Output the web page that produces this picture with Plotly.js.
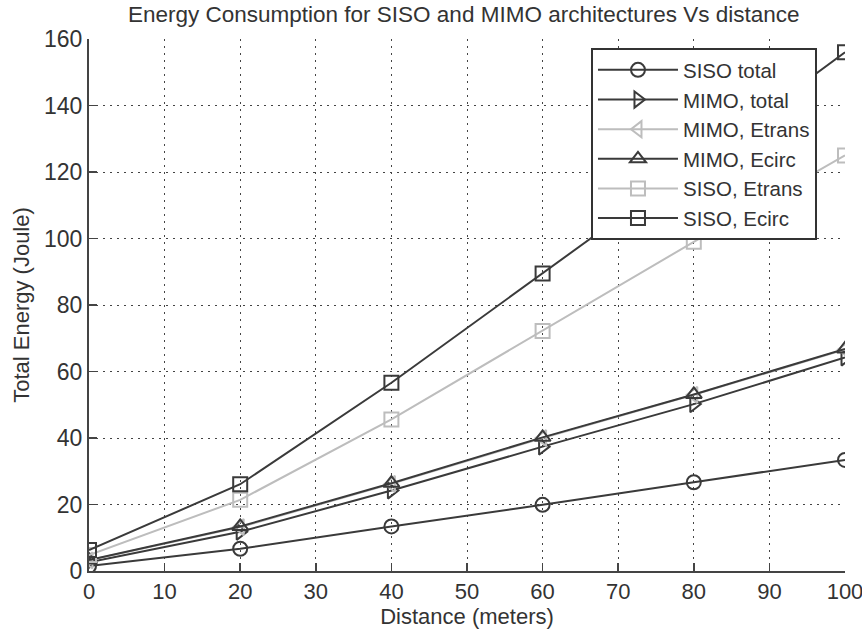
<!DOCTYPE html>
<html>
<head>
<meta charset="utf-8">
<script src="https://cdn.plot.ly/plotly-3.0.1.min.js"></script>
<style>html,body{margin:0;padding:0;background:#fff;}#chart{width:862px;height:631px;}</style>
</head>
<body>
<div id="chart"></div>
<script>
var distance = [0, 20, 40, 60, 80, 100];
var sisoTotal = [1.5, 6.7, 13.4, 19.9, 26.7, 33.4];
var mimoTotal = [2.6, 11.8, 24.2, 37.4, 50.2, 64.2];
var mimoEtrans = [3.2, 13.2, 26.2, 40.0, 53.0, 66.6];
var mimoEcirc = [3.3, 13.4, 26.4, 40.2, 53.1, 66.8];
var sisoEtrans = [4.8, 21.4, 45.6, 72.2, 99.0, 125.0];
var sisoEcirc = [6.3, 26.1, 56.6, 89.5, 122.5, 156.0];
var seriesNames = ["SISO total", "MIMO, total", "MIMO, Etrans", "MIMO, Ecirc", "SISO, Etrans", "SISO, Ecirc"];

var dark = "#3a3a3a";
var light = "#bdbdbd";
var defs = [
  {y: sisoTotal, c: dark, s: "circle-open"},
  {y: mimoTotal, c: dark, s: "triangle-right-open"},
  {y: mimoEtrans, c: light, s: "triangle-left-open"},
  {y: mimoEcirc, c: dark, s: "triangle-up-open"},
  {y: sisoEtrans, c: light, s: "square-open"},
  {y: sisoEcirc, c: dark, s: "square-open"}
];
var traces = defs.map(function(d, i){
  return {
    x: distance, y: d.y, name: seriesNames[i], type: "scatter", mode: "lines+markers",
    line: {color: d.c, width: 2},
    marker: {symbol: d.s, size: 14, color: d.c, line: {width: 2, color: d.c}}
  };
});

var layout = {
  width: 862, height: 631,
  margin: {l: 89, r: 17, t: 39, b: 60},
  paper_bgcolor: "#fff", plot_bgcolor: "#fff",
  font: {family: "Liberation Sans, Arial, sans-serif", color: "#333", size: 22},
  title: {text: "Energy Consumption for SISO and MIMO architectures Vs distance",
          x: 0.538, xanchor: "center", y: 0.978, yanchor: "middle",
          font: {size: 22.5, color: "#333"}},
  xaxis: {
    range: [0, 100], tickvals: [0,10,20,30,40,50,60,70,80,90,100],
    showgrid: true, gridcolor: "#444", griddash: "2px,5px", gridwidth: 1,
    showline: true, linecolor: "#444", linewidth: 2,
    ticks: "inside", ticklen: 8, tickwidth: 1.5, tickcolor: "#444",
    zeroline: false, tickfont: {size: 22, color: "#333"}, ticklabeloverflow: "allow",
    title: {text: "Distance (meters)", font: {size: 22, color: "#333"}, standoff: 0}
  },
  yaxis: {
    range: [0, 160], tickvals: [0,20,40,60,80,100,120,140,160],
    showgrid: true, gridcolor: "#444", griddash: "2px,5px", gridwidth: 1,
    showline: true, linecolor: "#444", linewidth: 2,
    ticks: "inside", ticklen: 8, tickwidth: 1.5, tickcolor: "#444",
    zeroline: false, tickfont: {size: 23, color: "#333"}, ticklabeloverflow: "allow",
    title: {text: "Total Energy (Joule)", font: {size: 22, color: "#333"}, standoff: 8}
  },
  showlegend: true,
  legend: {
    x: 0.664, y: 0.983, xanchor: "left", yanchor: "top",
    bgcolor: "#fff", bordercolor: "#333", borderwidth: 2,
    font: {size: 20.5, color: "#333"}, itemwidth: 80, tracegroupgap: 0
  }
};
Plotly.newPlot("chart", traces, layout, {displayModeBar: false, staticPlot: true});
</script>
</body>
</html>
